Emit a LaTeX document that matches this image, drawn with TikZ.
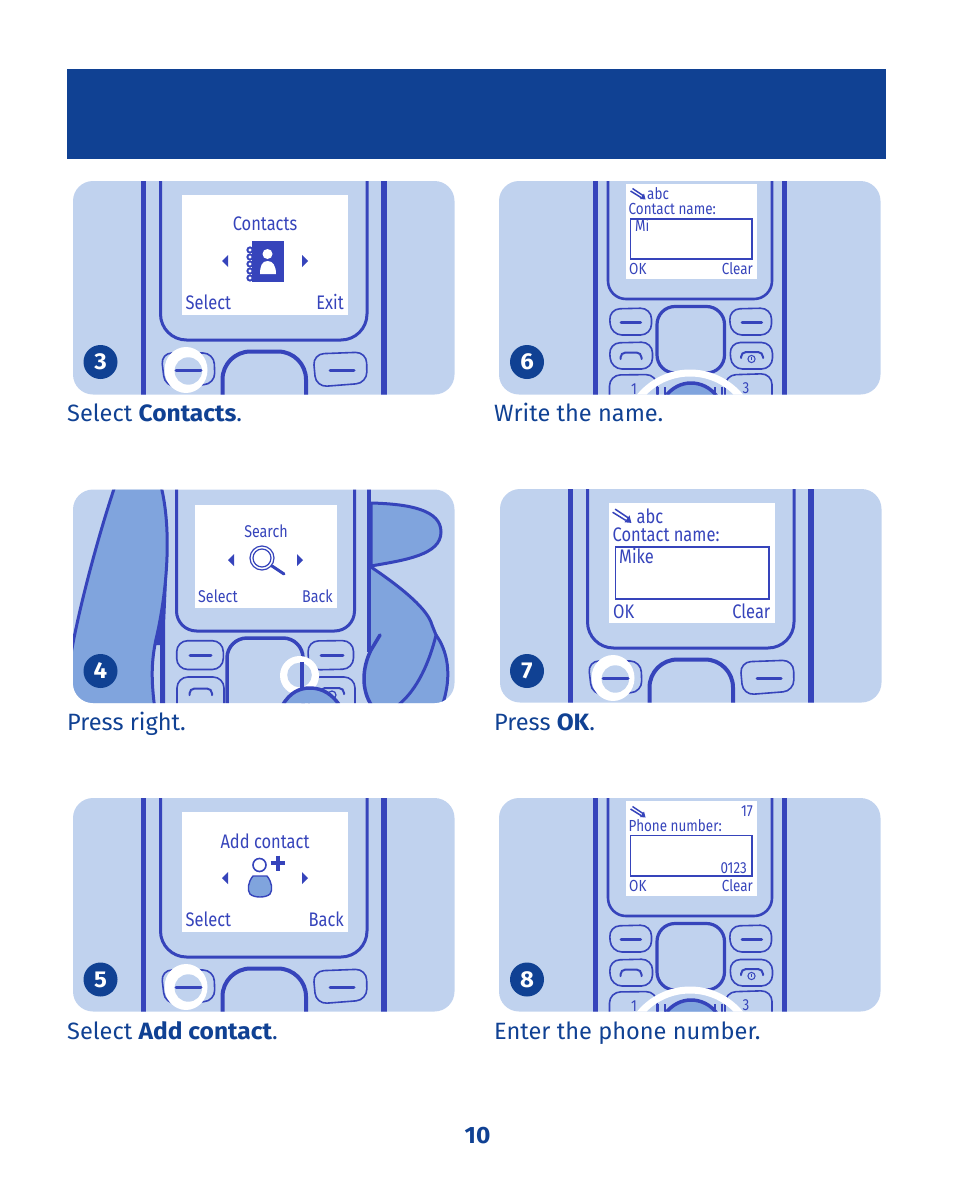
\documentclass[tikz,border=0pt]{standalone}
\usepackage{fontspec}
\setmainfont{Fira Sans}[BoldFeatures={FakeStretch=1.04}]
\newfontfamily\screenfont[FakeStretch=0.84]{Fira Sans}
\definecolor{navy}{HTML}{104193}
\definecolor{phoneblue}{HTML}{3644BB}
\definecolor{panelblue}{HTML}{C0D2EE}
\definecolor{fingerblue}{HTML}{80A4DD}
\tikzset{
    caption/.style={anchor=base west, inner sep=0pt, text=navy, font=\fontsize{23.6}{28}\selectfont},
    stepdot/.style={circle, fill=navy, minimum size=34pt, inner sep=0pt, text=white, font=\fontsize{23}{24}\selectfont\bfseries},
    scrbig/.style={inner sep=0pt, text=phoneblue, font=\screenfont\fontsize{19.6}{20}\selectfont},
    scrmid/.style={inner sep=0pt, text=phoneblue, font=\screenfont\fontsize{17}{18}\selectfont},
    scrsmall/.style={inner sep=0pt, text=phoneblue, font=\screenfont\fontsize{16}{16}\selectfont},
    softkey/.style={draw=phoneblue, line width=1.6pt, rounded corners=11pt},
    frameline/.style={draw=phoneblue, line width=5pt},
    keyline/.style={draw=phoneblue, line width=3pt, line cap=round},
    bracketline/.style={draw=phoneblue, line width=2pt, line cap=round, rounded corners=5pt},
    handline/.style={draw=phoneblue, line width=3.5pt, fill=fingerblue},
}
% panel background, then everything in it is clipped
\newcommand{\panelbox}[2]{
    \fill[panelblue, rounded corners=20pt] (#1,#2) rectangle ++(381.5,213.5);
    \clip[rounded corners=20pt] (#1,#2) rectangle ++(381.5,213.5);
}
\newcommand{\arrowleft}[2]{\fill[phoneblue] (#1,#2-6) -- ++(-6,6) -- ++(6,6) -- cycle;}
\newcommand{\arrowright}[2]{\fill[phoneblue] (#1,#2-6) -- ++(6,6) -- ++(-6,6) -- cycle;}
% drawn around (0,0)
\newcommand{\pencilicon}[3]{
    \begin{scope}[shift={(#1,#2)}, scale=#3]
        \draw[phoneblue, line width=1.5pt] (-7.5,-3) -- (3,3.5);
        \draw[phoneblue, line width=1.5pt] (-5.5,-5.5) -- (5,1.5);
        \fill[phoneblue] (2,5) -- (7.5,5.5) -- (6,-0.5) -- cycle;
    \end{scope}
}
% phone seen close up: screen and soft keys
\newcommand{\bigphone}{
    \panelbox{73}{181}
    \draw[frameline, line width=5.5pt] (143.5,175) -- (143.5,400);
    \draw[frameline, line width=5.5pt] (384,175) -- (384,400);
    \draw[phoneblue, line width=3pt, rounded corners=26pt] (160.5,170) -- (160.5,340) -- (367,340) -- (367,170);
    \fill[white] (182,195) rectangle (348,315);
    \draw[softkey] (161,353) -- (214,353) -- (215,384) -- (165,387) -- cycle;
    \draw[softkey] (313,354) -- (366.5,352) -- (367,383) -- (316,387) -- cycle;
    \draw[phoneblue, line width=4pt, rounded corners=28pt] (222.5,410) -- (222.5,351.5) -- (306,351.5) -- (306,410);
    \draw[keyline] (330,370) -- (354,370);
    \fill[white] (186,370) ellipse (21.5 and 23);
    \fill[panelblue] (188.3,371) circle (13.7);
    \draw[keyline] (176,370) -- (201,370);
}
% phone seen from further away, with the finger on the number key
\newcommand{\smallphone}{
    \panelbox{499}{181}
    \draw[frameline] (595.5,175) -- (595.5,400);
    \draw[frameline] (784.5,175) -- (784.5,400);
    \draw[phoneblue, line width=2.6pt, rounded corners=18pt] (608,170) -- (608,299) -- (772,299) -- (772,170);
    \fill[white] (626,184) rectangle (757,279);
    \draw[softkey] (609,309) -- (651.5,308) -- (651.5,335) -- (611,335) -- cycle;
    \draw[softkey] (729,309) -- (771.5,308) -- (771.5,335) -- (731,335) -- cycle;
    \draw[softkey] (609,343) -- (652.5,342) -- (652.5,369) -- (611,369) -- cycle;
    \draw[softkey] (729.5,342.5) -- (772.5,342.5) -- (772.5,369) -- (731.5,369) -- cycle;
    \draw[phoneblue, line width=3.2pt, rounded corners=18pt] (657,306.5) -- (724.5,306.5) -- (724.5,373) -- (657,373) -- cycle;
    \draw[keyline] (621,322) -- (640.5,322);
    \draw[keyline] (742,322) -- (761.5,322);
    \draw[bracketline] (620.5,359) -- (620.5,352.5) -- (641.5,352.5) -- (641.5,359);
    \draw[bracketline] (741,358) -- (741,352) -- (763,352) -- (763,358);
    \draw[phoneblue, line width=1pt] (751.5,359) circle (3.6);
    \draw[phoneblue, line width=1pt] (751.5,357) -- (751.5,360);
    \draw[softkey] (609.5,410) -- (609.5,375) -- (657,374.5) -- (657,410);
    \draw[softkey] (725,410) -- (725,375) -- (772,373.5) -- (772,410);
    \draw[phoneblue, line width=1.4pt] (658,387) -- (658,396) (665,387) -- (665,396);
    \draw[phoneblue, line width=1.4pt] (715,387) -- (715,396) (722,387) -- (722,396);
    \node[scrsmall] (keyone\dy) at (634,389) {1};
    \node[scrsmall] (keythree\dy) at (746,388) {3};
    \draw[white, line width=7pt] (690,438) circle (65);
    \draw[handline] (664,398) .. controls (672,387) and (682,383) .. (691,383) .. controls (700,383) and (711,387) .. (718,398);
}
\begin{document}
\begin{tikzpicture}[x=1pt, y=-1pt]
    \useasboundingbox (0,0) rectangle (954,1180);
    \fill[navy] (67,69) rectangle (886,159);

    % close up panels 3, 7, 5
    \foreach \dx/\dy in {0/0, 427/308, 0/617} {
        \begin{scope}[shift={(\dx,\dy)}]
            \bigphone
        \end{scope}
    }
    % further away panels 6, 8
    \foreach \dy in {0, 617} {
        \begin{scope}[shift={(0,\dy)}]
            \smallphone
        \end{scope}
    }

    % panel 4, with the hand
    \begin{scope}
        \panelbox{73}{489.5}
        \draw[handline, line width=3pt] (115,486) .. controls (100,530) and (78,610) .. (70,660) -- (70,710) -- (155,710) .. controls (151,680) and (151,660) .. (157,635) .. controls (167,590) and (172,530) .. (161,486);
        \fill[phoneblue] (167,580) -- (165,625) -- (165,710) -- (160,710) -- (160,645) -- (156,645) -- cycle;
        \draw[phoneblue, line width=3pt, rounded corners=20pt] (176.5,480) -- (176.5,631) -- (354.5,631) -- (354.5,480);
        \fill[white] (195,505) rectangle (337,608);
        \draw[handline, line width=3pt] (371,503) .. controls (410,504) and (441,510) .. (441,532) .. controls (441,555) and (405,560) .. (371,566) -- cycle;
        \fill[fingerblue] (369,567) .. controls (405,590) and (428,610) .. (432,625) -- (436,635) .. controls (447,650) and (453,675) .. (442,710) -- (372,710) .. controls (362,690) and (362,672) .. (369,656) -- cycle;
        \draw[phoneblue, line width=3pt] (371,567) .. controls (405,590) and (428,610) .. (432,625) -- (436,635) .. controls (430,660) and (418,690) .. (397,706);
        \draw[phoneblue, line width=3pt] (436,635) .. controls (447,650) and (453,675) .. (442,706);
        \draw[phoneblue, line width=3.5pt, line cap=round] (380,635) -- (371,650) .. controls (362,668) and (361,690) .. (372,706);
        \draw[frameline, line width=4pt] (368.7,485) -- (368.7,652);
        \draw[softkey] (176.7,640.7) rectangle (223.3,669.5);
        \draw[softkey] (307.5,641) -- (353.5,640.5) -- (353.5,669) -- (309,670) -- cycle;
        \draw[softkey] (177,710) -- (177,677) -- (224,677) -- (224,710);
        \draw[softkey] (309,710) -- (309,677) -- (355,677) -- (355,710);
        \draw[phoneblue, line width=3.5pt, rounded corners=20pt] (227,720) -- (227,638) -- (303,638) -- (303,720);
        \draw[keyline] (190,655) -- (211,655);
        \draw[keyline] (321,655) -- (343,655);
        \draw[bracketline] (189.5,695) -- (189.5,688.5) -- (212,688.5) -- (212,695);
        \draw[bracketline] (320,694) -- (320,688) -- (344,688) -- (344,694);
        \draw[phoneblue, line width=1.2pt] (332,695) circle (4);
        \fill[white] (299.5,675.5) circle (19.5);
        \fill[panelblue] (299.5,675) circle (12.3);
        \draw[phoneblue, line width=3.5pt] (302,662) -- (302,688);
        \draw[handline] (282,706) .. controls (290,692) and (300,688) .. (310,688) .. controls (323,688) and (333,695) .. (340,706);
    \end{scope}

    % screen of panel 3
    \node[scrbig] (contactstitle) at (265,224) {Contacts};
    \node[scrbig, anchor=base west] (selectthree) at (185.5,309) {Select};
    \node[scrbig, anchor=base east] (exitthree) at (344,309) {Exit};
    \arrowleft{228}{261}
    \arrowright{302}{261}
    \fill[phoneblue] (252,241) rectangle (284,282);
    \foreach \y in {250,257,264,271,278} {
        \draw[phoneblue, line width=1.9pt] (250,\y) circle (2.6);
    }
    \fill[white] (267.5,254) circle (5);
    \fill[white] (260,274) .. controls (260,266) and (262,261) .. (267.5,261) .. controls (273,261) and (276,266) .. (276,274) -- cycle;

    % screen of panel 4
    \node[scrmid] (searchtitle) at (266,531) {Search};
    \node[scrmid, anchor=base west] (selectfour) at (198,602) {Select};
    \node[scrmid, anchor=base east] (backfour) at (333,602) {Back};
    \arrowleft{234}{560}
    \arrowright{297}{560}
    \draw[phoneblue, line width=1.2pt] (262,558) circle (12);
    \draw[phoneblue, line width=1.2pt] (262,558) circle (9);
    \draw[phoneblue, line width=3pt, line cap=round] (272,566) -- (284,574);

    % screen of panel 5
    \node[scrbig] (addtitle) at (265,841) {Add contact};
    \node[scrbig, anchor=base west] (selectfive) at (185.5,926.5) {Select};
    \node[scrbig, anchor=base east] (backfive) at (344,926.5) {Back};
    \arrowleft{228}{878}
    \arrowright{302}{878}
    \draw[phoneblue, line width=1.6pt] (259.5,865) circle (6.5);
    \draw[phoneblue, line width=1.4pt, fill=fingerblue] (253,876) .. controls (248,882) and (247,890) .. (250,894) .. controls (254,898) and (266,898) .. (270,894) .. controls (273,890) and (272,882) .. (267,876) -- cycle;
    \draw[phoneblue, line width=3.6pt] (270.5,863) -- (285,863) (278,855.5) -- (278,870.5);

    % screen of panel 6
    \pencilicon{638}{194}{1}
    \node[scrsmall, anchor=base west] (abcsix) at (647,199) {abc};
    \node[scrsmall, anchor=base west] (namesix) at (628.5,214) {Contact name:};
    \draw[phoneblue, line width=1.2pt] (630.5,219) rectangle (752,259);
    \node[scrsmall, anchor=base west] (misix) at (635,231) {Mi};
    \node[scrsmall, anchor=base west] (oksix) at (629,274) {OK};
    \node[scrsmall, anchor=base east] (clearsix) at (753,274) {Clear};

    % screen of panel 7
    \pencilicon{622}{516}{1.25}
    \node[scrbig, anchor=base west] (abcseven) at (636.5,523) {abc};
    \node[scrbig, anchor=base west] (nameseven) at (612.5,541) {Contact name:};
    \draw[phoneblue, line width=1.6pt] (615.5,547) rectangle (769,599);
    \node[scrbig, anchor=base west] (mikeseven) at (619,563) {Mike};
    \node[scrbig, anchor=base west] (okseven) at (613,618) {OK};
    \node[scrbig, anchor=base east] (clearseven) at (770.5,618) {Clear};

    % screen of panel 8
    \pencilicon{638}{812}{1}
    \node[scrsmall, anchor=base east] (countereight) at (753,816) {17};
    \node[scrsmall, anchor=base west] (phoneeight) at (628.5,831) {Phone number:};
    \draw[phoneblue, line width=1.2pt] (630.5,835.5) rectangle (752,876);
    \node[scrsmall, anchor=base east] (numbereight) at (747,873) {0123};
    \node[scrsmall, anchor=base west] (okeight) at (629,891) {OK};
    \node[scrsmall, anchor=base east] (cleareight) at (753,891) {Clear};

    % numbered dots
    \node[stepdot] (dotthree) at (100.5,362) {3};
    \node[stepdot] (dotfour) at (100.5,671) {4};
    \node[stepdot] (dotfive) at (100.5,979.5) {5};
    \node[stepdot] (dotsix) at (527,362) {6};
    \node[stepdot] (dotseven) at (527,671) {7};
    \node[stepdot] (doteight) at (527,979.5) {8};

    % captions
    \node[caption] (capthree) at (67,421) {Select \textbf{Contacts}.};
    \node[caption] (capfour) at (67,730) {Press right.};
    \node[caption] (capfive) at (67,1039) {Select \textbf{Add contact}.};
    \node[caption] (capsix) at (494,421) {Write the name.};
    \node[caption] (capseven) at (494,730) {Press \textbf{OK}.};
    \node[caption] (capeight) at (494,1039) {Enter the phone number.};

    \node[text=navy, inner sep=0pt, font=\fontsize{23.6}{28}\selectfont\bfseries] (pagenum) at (477.5,1135.5) {10};
\end{tikzpicture}
\end{document}
